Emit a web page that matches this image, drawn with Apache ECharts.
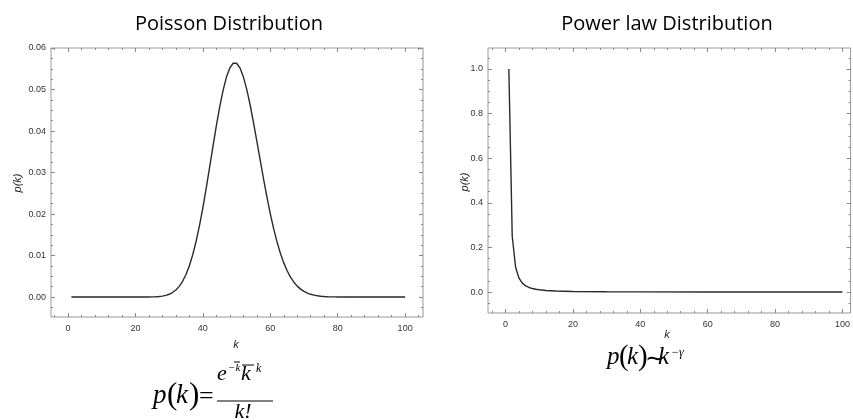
<!DOCTYPE html>
<html>
<head>
<meta charset="utf-8">
<script src="https://cdn.jsdelivr.net/npm/echarts@6/dist/echarts.min.js"></script>
<style>
  html, body { margin: 0; padding: 0; background: #fff; }
  #main { width: 853px; height: 420px; }
</style>
</head>
<body>
<div id="main"></div>
<script>
// Poisson distribution (mean 50)
let poissonK = [1, 20, 24, 25, 26, 27, 28, 29, 30, 31, 32, 33, 34, 35, 36, 37, 38, 39, 40,
    41, 42, 43, 44, 45, 46, 47, 48, 49, 50, 51, 52, 53, 54, 55, 56, 57, 58, 59, 60,
    61, 62, 63, 64, 65, 66, 67, 68, 69, 70, 71, 72, 73, 74, 75, 76, 77, 78, 79, 80, 85, 100];
let poissonP = [0, 0, 0.00002, 0.00004, 0.00007, 0.00013, 0.00024, 0.00041, 0.00068, 0.00109,
    0.00171, 0.00258, 0.0038, 0.00543, 0.00755, 0.0102, 0.01342, 0.0172, 0.0215,
    0.02622, 0.03122, 0.0363, 0.04125, 0.04583, 0.04981, 0.05299, 0.0552, 0.05633, 0.05633,
    0.05523, 0.05311, 0.0501, 0.04639, 0.04217, 0.03765, 0.03303, 0.02847, 0.02413, 0.02011,
    0.01648, 0.01329, 0.01055, 0.00824, 0.00634, 0.0048, 0.00358, 0.00264, 0.00191, 0.00136,
    0.00096, 0.00067, 0.00046, 0.00031, 0.00021, 0.00014, 0.00009, 0.00006, 0.00004, 0.00002,
    0, 0];

// Power law
let powerK = [1, 2, 3, 4, 5, 6, 7, 8, 9, 10, 12, 15, 20, 30, 40, 60, 80, 100];
let powerP = [1, 0.25, 0.1111, 0.0625, 0.04, 0.0278, 0.0204, 0.0156, 0.0123, 0.01,
    0.0069, 0.0044, 0.0025, 0.0011, 0.0006, 0.0003, 0.0002, 0.0001];

// tick labels
let kTicks = [0, 20, 40, 60, 80, 100];
let poissonTicks = [0, 0.01, 0.02, 0.03, 0.04, 0.05, 0.06];
let powerTicks = [0, 0.2, 0.4, 0.6, 0.8, 1.0];

function minorsOf(ticks, n, lo, hi) {
    let step = (ticks[1] - ticks[0]) / n;
    let out = [];
    for (let v = ticks[0] - step * 10; v <= hi; v += step) {
        if (v >= lo) out.push(+v.toFixed(6));
    }
    return out;
}

// four framed sides: major + minor ticks, labels only on bottom/left
function frameAxes(dim, grid, min, max, majors, minors, digits) {
    let sides = dim === "x" ? ["bottom", "top"] : ["left", "right"];
    let axes = [];
    sides.forEach(function (pos, si) {
        [[majors, 4], [minors, 2]].forEach(function (pair, mi) {
            axes.push({
                type: "value",
                gridIndex: grid,
                position: pos,
                min: min,
                max: max,
                axisLine: { show: false, onZero: false },
                splitLine: { show: false },
                axisTick: {
                    show: true,
                    inside: true,
                    length: pair[1],
                    customValues: pair[0],
                    lineStyle: { color: "#888", width: 1 },
                },
                axisLabel: si === 0 && mi === 0 ? {
                    show: true,
                    customValues: majors,
                    formatter: function (v) { return v.toFixed(digits); },
                    fontFamily: "Liberation Sans",
                    fontSize: 9,
                    color: "#333",
                    margin: dim === "x" ? 7 : 5,
                } : { show: false },
            });
        });
    });
    return axes;
}

let dom = document.getElementById("main");
let myChart = echarts.init(dom, null, { renderer: "canvas" });

let xAxes = [].concat(
    frameAxes("x", 0, -5.04, 105.3, kTicks, minorsOf(kTicks, 5, -5.04, 105.3), 0),
    frameAxes("x", 1, -5.19, 102.4, kTicks, minorsOf(kTicks, 5, -5.19, 102.4), 0)
);
let yAxes = [].concat(
    frameAxes("y", 0, -0.0048, 0.06, poissonTicks, minorsOf(poissonTicks, 4, -0.0048, 0.06), 2),
    frameAxes("y", 1, -0.094, 1.094, powerTicks, minorsOf(powerTicks, 4, -0.094, 1.094), 1)
);

function txt(s, x, y, size, italic, align) {
    return {
        type: "text", x: x, y: y, silent: true,
        style: {
            text: s,
            font: (italic ? "italic " : "") + size + 'px "Liberation Serif"',
            fill: "#000",
            textAlign: align || "left",
            textVerticalAlign: "middle",
        },
    };
}
function bar(x1, x2, y) {
    return { type: "line", silent: true, shape: { x1: x1, y1: y, x2: x2, y2: y },
        style: { stroke: "#000", lineWidth: 1 } };
}
function sansLabel(s, x, y, rot) {
    return {
        type: "text", x: x, y: y, rotation: rot || 0, silent: true,
        style: { text: s, font: 'italic 11px "Liberation Sans"', fill: "#222",
            textAlign: "center", textVerticalAlign: "middle" },
    };
}

let graphics = [
    // axis titles
    sansLabel("k", 236, 345), sansLabel("p(k)", 18, 183, Math.PI / 2),
    sansLabel("k", 667, 335), sansLabel("p(k)", 465, 182, Math.PI / 2),
    // left formula
    txt("p", 153, 396, 27, true), txt("(", 167, 396, 31, false), txt("k", 176, 396, 27, true),
    txt(")", 189, 396, 31, false), txt("=", 199, 397, 26, false),
    bar(217, 273, 401),
    txt("e", 217, 374, 22, true), txt("\u2212k", 228, 368, 11, true), bar(234, 240, 362),
    txt("k", 241, 374, 22, true), bar(242, 254, 365), txt("k", 256, 369, 12, true),
    txt("k!", 243, 412, 22, true, "center"),
    // right formula
    txt("p", 607, 357, 25, true), txt("(", 619, 357, 29, false), txt("k", 627, 357, 25, true),
    txt(")", 638, 357, 29, false), txt("\u223c", 645, 360, 24, false), txt("k", 658, 357, 25, true),
    txt("\u2212\u03b3", 671, 353, 12, true),
];

let option = {
    animation: false,
    title: [
        { text: "Poisson Distribution", left: 224, top: 9, textAlign: "center",
            textStyle: { fontFamily: "Open Sans", fontSize: 20, fontWeight: "normal", color: "#000" } },
        { text: "Power law Distribution", left: 662, top: 9, textAlign: "center",
            textStyle: { fontFamily: "Open Sans", fontSize: 20, fontWeight: "normal", color: "#000" } },
    ],
    grid: [
        { left: 51, top: 48, width: 372, height: 269, show: true, borderColor: "#999", borderWidth: 1 },
        { left: 488, top: 48, width: 363, height: 265, show: true, borderColor: "#999", borderWidth: 1 },
    ],
    xAxis: xAxes,
    yAxis: yAxes,
    series: [
        {
            type: "line",
            xAxisIndex: 0,
            yAxisIndex: 0,
            symbol: "none",
            lineStyle: { color: "#2a2a2a", width: 1.4 },
            data: poissonK.map(function (k, i) { return [k, poissonP[i]]; }),
        },
        {
            type: "line",
            xAxisIndex: 4,
            yAxisIndex: 4,
            symbol: "none",
            lineStyle: { color: "#2a2a2a", width: 1.4 },
            data: powerK.map(function (k, i) { return [k, powerP[i]]; }),
        },
    ],
    graphic: graphics,
};

myChart.setOption(option);
window.addEventListener("resize", myChart.resize);
</script>
</body>
</html>
